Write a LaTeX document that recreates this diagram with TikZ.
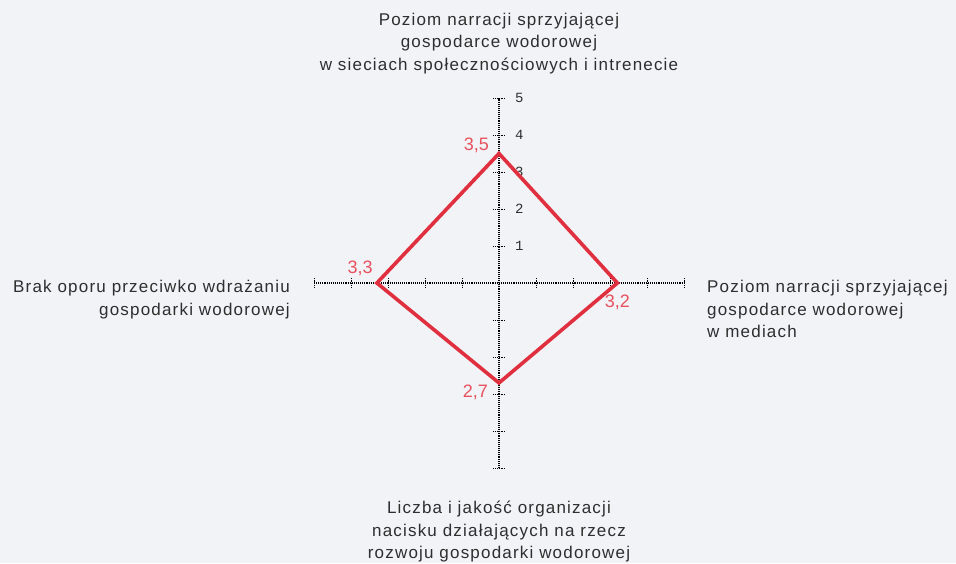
\documentclass[tikz,border=0pt]{standalone}
\usepackage{fontspec}
\setmainfont{Liberation Sans}[LetterSpace=7]
\newfontfamily\tickfont{Liberation Mono}
\newfontfamily\valuefont{Liberation Sans}
\usepackage{tikz}
\usetikzlibrary{positioning,calc}
\definecolor{Bg}{HTML}{F1F3F6}
\definecolor{Radar}{HTML}{E0303F}
\definecolor{RadarText}{HTML}{E8505E}
\definecolor{Caption}{HTML}{2E2E2E}

\begin{document}
\begin{tikzpicture}[
    x=1pt, y=1pt,
    axis/.style={densely dotted, line width=1.1pt},
    tickmark/.style={densely dotted, line width=0.9pt},
    ticklabel/.style={font=\tickfont\fontsize{14}{14}\selectfont, text=Caption, anchor=west, inner sep=0pt},
    caption/.style={font=\fontsize{17}{22.5}\selectfont, text=Caption, inner sep=0pt},
    value/.style={font=\valuefont\fontsize{18}{18}\selectfont, text=RadarText, inner sep=0pt},
    radar/.style={draw=Radar, line width=3.6pt, line join=miter}
  ]

  \fill[Bg] (-499,-280) rectangle (457,283);
  \useasboundingbox (-499,-280) rectangle (457,283);
  \def\u{37}

  % axis ends
  \coordinate (atop) at (0,5*\u);
  \coordinate (abottom) at (0,-5*\u);
  \coordinate (aleft) at (-5*\u,0);
  \coordinate (aright) at (5*\u,0);

  \draw[axis] (aleft) -- (aright);
  \draw[axis] (abottom) -- (atop);

  \foreach \k in {-5,...,5} {
    \ifnum\k=0\else
      \draw[tickmark] (\k*\u,-5) -- (\k*\u,5);
      \draw[tickmark] (-6,\k*\u) -- (6,\k*\u);
    \fi
  }
  \foreach \k in {1,...,5}
    \node[ticklabel] (t\k) at (16,\k*\u) {\k};

  % values
  \coordinate (vtop) at (0,3.5*\u);
  \coordinate (vright) at (3.2*\u,0);
  \coordinate (vbottom) at (0,-2.7*\u);
  \coordinate (vleft) at (-3.3*\u,0);

  \draw[radar] (vtop) -- (vright) -- (vbottom) -- (vleft) -- cycle;

  \node[value, above left=0pt and 10pt of vtop] (ltop) {3,5};
  \node[value, above left=7pt and 4pt of vleft] (lleft) {3,3};
  \node[value, below=12pt of vright] (lright) {3,2};
  \node[value, below left=2pt and 11pt of vbottom] (lbottom) {2,7};

  % captions
  \node[caption, align=center, above=24pt of atop] (ctop)
  {Poziom narracji sprzyjającej\\gospodarce wodorowej\\w sieciach społecznościowych i intrenecie};

  \node[caption, align=center, below=33pt of abottom] (cbottom)
  {Liczba i jakość organizacji\\nacisku działających na rzecz\\rozwoju gospodarki wodorowej};

  \node[caption, align=right, left=24pt of aleft, anchor=north east, yshift=3pt] (cleft)
  {Brak oporu przeciwko wdrażaniu\\gospodarki wodorowej};

  \node[caption, align=left, right=23pt of aright, anchor=north west, yshift=3pt] (cright)
  {Poziom narracji sprzyjającej\\gospodarce wodorowej\\w mediach};
\end{tikzpicture}
\end{document}
